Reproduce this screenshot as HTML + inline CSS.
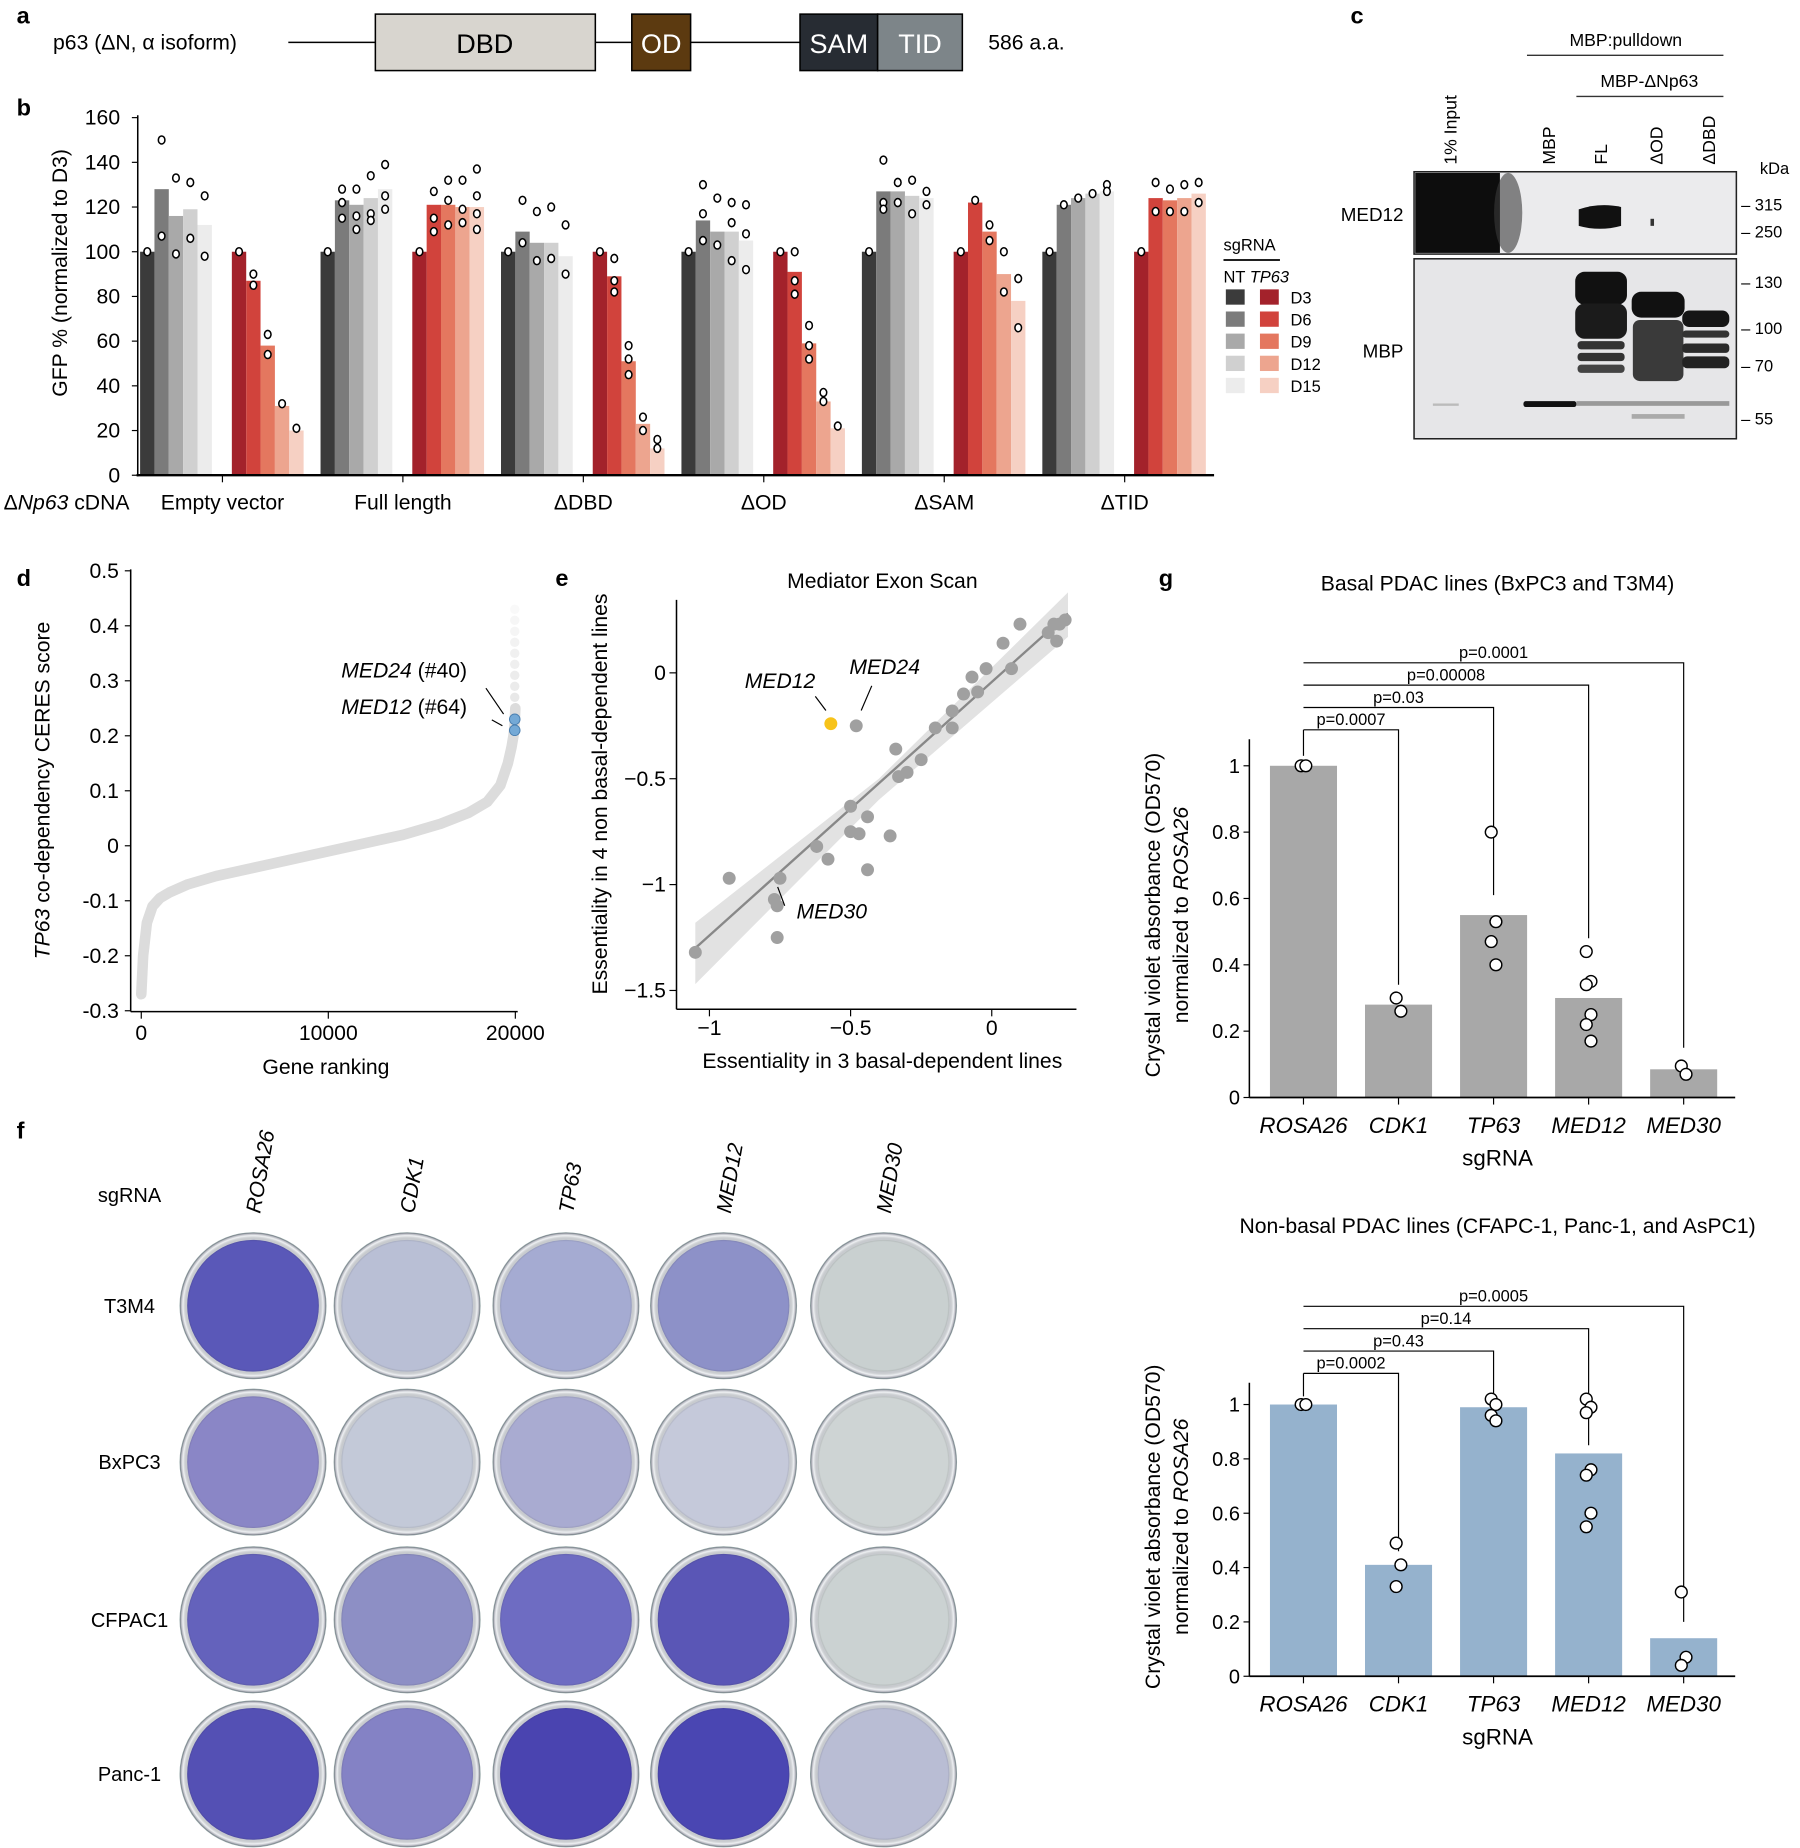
<!DOCTYPE html>
<html><head><meta charset="utf-8"><style>
html,body{margin:0;padding:0;background:#fff;width:1800px;height:1848px;overflow:hidden}
svg{display:block;font-family:"Liberation Sans",Arial,sans-serif}
</style></head><body>
<svg id="fig" width="1800" height="1848" viewBox="0 0 1530 1571" xmlns="http://www.w3.org/2000/svg">
<defs>
<radialGradient id="rim" cx="50%" cy="50%" r="50%"><stop offset="88%" stop-color="#000" stop-opacity="0"/><stop offset="96%" stop-color="#fff" stop-opacity="0.5"/><stop offset="100%" stop-color="#556" stop-opacity="0.6"/></radialGradient>
</defs>
<g>
<text x="14" y="20" font-size="20" font-weight="bold">a</text>
<text x="45" y="42" font-size="18">p63 (ΔN, α isoform)</text>
<line x1="245" y1="36" x2="319" y2="36" stroke="#000" stroke-width="1.3"/>
<rect x="319" y="12" width="187" height="48" fill="#d8d5cf" stroke="#000" stroke-width="1.3"/>
<text x="412" y="45" font-size="23" text-anchor="middle">DBD</text>
<line x1="506" y1="36" x2="537" y2="36" stroke="#000" stroke-width="1.3"/>
<rect x="537" y="12" width="50" height="48" fill="#5c3a10" stroke="#000" stroke-width="1.3"/>
<text x="562" y="45" font-size="23" text-anchor="middle" fill="#fff">OD</text>
<line x1="587" y1="36" x2="680" y2="36" stroke="#000" stroke-width="1.3"/>
<rect x="680" y="12" width="66" height="48" fill="#272c33" stroke="#000" stroke-width="1.3"/>
<text x="713" y="45" font-size="23" text-anchor="middle" fill="#fff">SAM</text>
<rect x="746" y="12" width="72" height="48" fill="#7d8589" stroke="#000" stroke-width="1.3"/>
<text x="782" y="45" font-size="23" text-anchor="middle" fill="#fff">TID</text>
<text x="840" y="42" font-size="18">586 a.a.</text>
</g>
<g id="pb">
<text x="14" y="98" font-size="20" font-weight="bold">b</text>
</g>
<g id="pc">
<text x="1148" y="20" font-size="20" font-weight="bold">c</text>
<text x="1382" y="39" font-size="15" text-anchor="middle">MBP:pulldown</text>
<line x1="1298" y1="47" x2="1465" y2="47" stroke="#333" stroke-width="1.2"/>
<text x="1402" y="74" font-size="15" text-anchor="middle">MBP-ΔNp63</text>
<line x1="1340" y1="82" x2="1465" y2="82" stroke="#333" stroke-width="1.2"/>
<text transform="translate(1238,140) rotate(-90)" font-size="15">1% Input</text>
<text transform="translate(1322,140) rotate(-90)" font-size="15">MBP</text>
<text transform="translate(1366,140) rotate(-90)" font-size="15">FL</text>
<text transform="translate(1413,140) rotate(-90)" font-size="15">ΔOD</text>
<text transform="translate(1458,140) rotate(-90)" font-size="15">ΔDBD</text>
<text x="1496" y="148" font-size="14">kDa</text>
<text x="1193" y="188" font-size="16" text-anchor="end">MED12</text>
<text x="1193" y="304" font-size="16" text-anchor="end">MBP</text>
<g>
<rect x="1202" y="146" width="274" height="70" fill="#ebebed" stroke="#222" stroke-width="1.3"/>
<rect x="1203" y="147" width="72" height="68" fill="#0d0d0d"/>
<ellipse cx="1282" cy="181" rx="12" ry="34" fill="#3a3a3a" opacity="0.6"/>
<path d="M1342 178 Q1360 172 1378 176 L1378 192 Q1360 197 1342 192 Z" fill="#111"/>
<rect x="1403" y="186" width="3" height="6" fill="#333"/>
</g>
<g>
<rect x="1202" y="220" width="274" height="153" fill="#e6e6e8" stroke="#222" stroke-width="1.3"/>
<rect x="1339" y="231" width="44" height="28" rx="8" fill="#111"/>
<rect x="1339" y="258" width="44" height="30" rx="8" fill="#1b1b1b"/>
<rect x="1341" y="290" width="40" height="7" rx="3" fill="#333"/>
<rect x="1341" y="300" width="40" height="7" rx="3" fill="#333"/>
<rect x="1341" y="310" width="40" height="7" rx="3" fill="#444"/>
<rect x="1387" y="248" width="45" height="22" rx="8" fill="#111"/>
<rect x="1388" y="272" width="43" height="52" rx="6" fill="#3a3a3a"/>
<rect x="1430" y="264" width="40" height="14" rx="6" fill="#151515"/>
<rect x="1430" y="281" width="40" height="6" rx="3" fill="#333"/>
<rect x="1430" y="292" width="40" height="8" rx="3" fill="#2a2a2a"/>
<rect x="1430" y="303" width="40" height="10" rx="4" fill="#222"/>
<rect x="1295" y="341" width="45" height="5" rx="2" fill="#111"/>
<rect x="1340" y="341" width="130" height="4" fill="#999"/>
<rect x="1387" y="352" width="45" height="4" fill="#aaa"/>
<rect x="1218" y="343" width="22" height="2" fill="#bbb"/>
</g>
<g font-size="14">
<text x="1480" y="179">– 315</text><text x="1480" y="202">– 250</text>
<text x="1480" y="245">– 130</text><text x="1480" y="284">– 100</text>
<text x="1480" y="316">– 70</text><text x="1480" y="361">– 55</text>
</g>
</g>
<g id="pd">
<text x="14" y="498" font-size="20" font-weight="bold">d</text>
</g>
<g id="pe">
<text x="472" y="498" font-size="20" font-weight="bold">e</text>
</g>
<g id="pf">
<text x="14" y="968" font-size="20" font-weight="bold">f</text>
<text x="110" y="1022" font-size="17" text-anchor="middle">sgRNA</text>
</g>
<g id="pg">
<text x="985" y="498" font-size="20" font-weight="bold">g</text>
</g>
</svg>
<script>
const NS='http://www.w3.org/2000/svg';
function mk(parent,tag,attrs,txt){const e=document.createElementNS(NS,tag);for(const k in attrs)e.setAttribute(k,attrs[k]);if(txt!==undefined)e.textContent=txt;parent.appendChild(e);return e;}

const bGroups=['Empty vector','Full length','ΔDBD','ΔOD','ΔSAM','ΔTID'];
const bDays=['D3','D6','D9','D12','D15'];
const bNT=[[100,128,116,119,112],[100,123,121,124,128],[100,109,104,104,98],[100,114,109,109,105],[100,127,127,125,124],[100,121,124,126,127]];
const bTP=[[100,87,58,31,20],[100,121,121,120,120],[100,89,51,23,12],[100,91,59,33,21],[100,122,109,90,78],[100,124,123,124,126]];
const bNTdots=[[[100],[150,107],[133,99],[131,106],[125,98]],
[[100],[128,122,115],[128,116,110],[134,117,114],[139,125,119]],
[[100],[123,104],[118,96],[120,97],[112,90]],
[[100],[130,117,105],[124,103],[122,113,96],[121,108,92]],
[[100],[141,122,119],[131,122],[132,117],[127,121]],
[[100],[121],[124],[126],[130,127]]];
const bTPdots=[[[100],[90,85],[63,54],[32],[21]],
[[100],[127,115,109],[132,123,112],[132,119,113],[137,125,117,110]],
[[100],[97,87,82],[58,52,45],[26,20],[16,12]],
[[100],[100,87,81],[67,58,52],[37,33],[22]],
[[100],[123],[112,105],[100,82],[88,66]],
[[100],[131,118],[128,118],[130,118],[131,122]]];
const bTicks=[0,20,40,60,80,100,120,140,160];
const ntColors=['#3b3b3b','#7b7b7b','#a9a9a9','#d0d0d0','#ececec'];
const tpColors=['#a3222b','#d1433c','#e4775f','#eda58f','#f6d0c3'];
(function(){
 const g=document.getElementById('pb');
 const y=v=>404-v*1.9, gx=i=>119+i*153.4, bw=12.2;
 bTicks.forEach(t=>{mk(g,'line',{x1:112,x2:117,y1:y(t),y2:y(t),stroke:'#000'});
  const tx=mk(g,'text',{x:102,y:y(t)+6,'font-size':18,'text-anchor':'end'},t);
  
  });
 bGroups.forEach((gn,i)=>{
  for(let d=0;d<5;d++){
   const x1=gx(i)+d*bw, x2=gx(i)+78+d*bw;
   const r1=mk(g,'rect',{x:x1,y:y(bNT[i][d]),width:bw,height:bNT[i][d]*1.9,fill:ntColors[d]});
   
   
   const r2=mk(g,'rect',{x:x2,y:y(bTP[i][d]),width:bw,height:bTP[i][d]*1.9,fill:tpColors[d]});
   
   
   bNTdots[i][d].forEach(v=>{const c=mk(g,'ellipse',{cx:x1+bw/2,cy:y(v),rx:2.8,ry:3.4,fill:'#fff',stroke:'#000','stroke-width':1.3});
    
    });
   bTPdots[i][d].forEach(v=>{const c=mk(g,'ellipse',{cx:x2+bw/2,cy:y(v),rx:2.8,ry:3.4,fill:'#fff',stroke:'#000','stroke-width':1.3});
    
    });
  }
  const cx=gx(i)+70;
  mk(g,'line',{x1:cx,x2:cx,y1:404,y2:410,stroke:'#000'});
  const lb=mk(g,'text',{x:cx,y:433,'font-size':18,'text-anchor':'middle'},gn);
  
  
 });
 mk(g,'line',{x1:117,x2:117,y1:98,y2:405,stroke:'#000','stroke-width':1.3});
 mk(g,'line',{x1:116,x2:1032,y1:404,y2:404,stroke:'#000','stroke-width':2});
 const cd=mk(g,'text',{x:3,y:433,'font-size':18});
 
 
 cd.innerHTML='Δ<tspan font-style="italic">Np63</tspan> cDNA';
 const yl=mk(g,'text',{transform:'translate(57,232) rotate(-90)','font-size':18,'text-anchor':'middle'},'GFP % (normalized to D3)');
 
 
 const lg=mk(g,'g',{});
 
 
 mk(lg,'text',{x:1040,y:213,'font-size':14},'sgRNA');
 mk(lg,'line',{x1:1040,x2:1088,y1:221,y2:221,stroke:'#000','stroke-width':1.5});
 mk(lg,'text',{x:1040,y:240,'font-size':14}).innerHTML='NT <tspan font-style="italic">TP63</tspan>';
 bDays.forEach((d,k)=>{const yy=246+k*18.8;
  const e=mk(lg,'g',{});
  
  
  mk(e,'rect',{x:1042,y:yy,width:16,height:13,fill:ntColors[k]});
  mk(e,'rect',{x:1071,y:yy,width:16,height:13,fill:tpColors[k]});
  mk(e,'text',{x:1097,y:yy+12,'font-size':14},d);});
})();

const dRank=[0,100,300,600,1000,1500,2500,4000,6000,8000,10000,12000,14000,16000,17500,18500,19200,19600,19800,19900,19960,20000];
const dScore=[-0.27,-0.2,-0.14,-0.11,-0.095,-0.085,-0.07,-0.055,-0.04,-0.025,-0.01,0.005,0.02,0.04,0.06,0.08,0.11,0.15,0.18,0.2,0.22,0.25];
const dTail=[0.27,0.29,0.31,0.33,0.35,0.37,0.39,0.41,0.43];
const dHighlight=[0.23,0.21];
const dTicks=[-0.3,-0.2,-0.1,0,0.1,0.2,0.3,0.4,0.5];
(function(){
 const g=document.getElementById('pd');
 const x=r=>120+r*0.0159, y=v=>719-v*467.5;
 dTicks.forEach(t=>{mk(g,'line',{x1:106,x2:111,y1:y(t),y2:y(t),stroke:'#000'});
  const tx=mk(g,'text',{x:101,y:y(t)+6,'font-size':18,'text-anchor':'end'},(t===0?'0':String(t)));
  
  });
 [0,10000,20000].forEach(t=>{mk(g,'line',{x1:x(t),x2:x(t),y1:860,y2:866,stroke:'#000'});
  const tx=mk(g,'text',{x:x(t),y:884,'font-size':18,'text-anchor':'middle'},t);
  
  });
 mk(g,'line',{x1:111,x2:111,y1:484,y2:860,stroke:'#000','stroke-width':1.3});
 mk(g,'line',{x1:111,x2:440,y1:860,y2:860,stroke:'#000','stroke-width':1.3});
 const p=mk(g,'polyline',{points:dRank.map((r,i)=>x(r)+','+y(dScore[i])).join(' '),fill:'none',stroke:'#dcdcdc','stroke-width':9,'stroke-linejoin':'round','stroke-linecap':'round'});
 
 
 dTail.forEach((v,i)=>{const c=mk(g,'circle',{cx:x(20000)-0.5,cy:y(v),r:4,fill:'#e6e6e6',opacity:0.9-i*0.08});
  
  });
 dHighlight.forEach(v=>{const c=mk(g,'circle',{cx:x(20000)-0.5,cy:y(v),r:4.5,fill:'#74a9d6',stroke:'#4a7fb0','stroke-width':0.8});
  
  });
 const a1=mk(g,'text',{x:290,y:576,'font-size':18});a1.innerHTML='<tspan font-style="italic">MED24</tspan> (#40)';
 
 
 const a2=mk(g,'text',{x:290,y:607,'font-size':18});a2.innerHTML='<tspan font-style="italic">MED12</tspan> (#64)';
 
 
 mk(g,'line',{x1:413,y1:585,x2:428,y2:607,stroke:'#000'});
 mk(g,'line',{x1:418,y1:612,x2:427,y2:617,stroke:'#000'});
 const xl=mk(g,'text',{x:277,y:913,'font-size':18,'text-anchor':'middle'},'Gene ranking');
 
 
 const yl=mk(g,'text',{transform:'translate(42,672) rotate(-90)','font-size':18,'text-anchor':'middle'});
 yl.innerHTML='<tspan font-style="italic">TP63</tspan> co-dependency CERES score';
 
 
})();

const eX=[-1.05,-0.93,-0.77,-0.76,-0.75,-0.76,-0.62,-0.58,-0.5,-0.5,-0.47,-0.44,-0.44,-0.36,-0.34,-0.33,-0.3,-0.25,-0.2,-0.14,-0.14,-0.1,-0.07,-0.05,-0.02,0.04,0.07,0.1,0.2,0.23,0.24,0.22,0.26];
const eY=[-1.32,-0.97,-1.07,-1.1,-0.97,-1.25,-0.82,-0.88,-0.63,-0.75,-0.76,-0.68,-0.93,-0.77,-0.36,-0.49,-0.47,-0.41,-0.26,-0.18,-0.26,-0.1,-0.02,-0.09,0.02,0.14,0.02,0.23,0.19,0.15,0.23,0.23,0.25];
const eMed12=[-0.57,-0.24];
const eMed24=[-0.48,-0.25];
const eFit=[[-1.05,-1.3],[0.27,0.28]];
const eXTicks=[-1,-0.5,0];
const eYTicks=[-1.5,-1,-0.5,0];
(function(){
 const g=document.getElementById('pe');
 const x=v=>843+v*240, y=v=>572-v*180;
 const t=mk(g,'text',{x:750,y:500,'font-size':18,'text-anchor':'middle'},'Mediator Exon Scan');
 
 
 const band=mk(g,'polygon',{points:[x(-1.05)+','+y(-1.18),x(-0.4)+','+y(-0.5),x(0.27)+','+y(0.38),x(0.27)+','+y(0.17),x(-0.4)+','+y(-0.6),x(-1.05)+','+y(-1.47)].join(' '),fill:'#e2e2e2'});
 
 
 const fl=mk(g,'line',{x1:x(eFit[0][0]),y1:y(eFit[0][1]),x2:x(eFit[1][0]),y2:y(eFit[1][1]),stroke:'#888','stroke-width':2});
 
 
 eX.forEach((v,i)=>{const c=mk(g,'circle',{cx:x(v),cy:y(eY[i]),r:5.5,fill:'#a0a0a0'});
  
  });
 const c24=mk(g,'circle',{cx:x(eMed24[0]),cy:y(eMed24[1]),r:5.5,fill:'#a0a0a0'});
 
 
 const c12=mk(g,'circle',{cx:x(eMed12[0]),cy:y(eMed12[1]),r:5.5,fill:'#f7c31a'});
 
 
 mk(g,'line',{x1:575,x2:575,y1:510,y2:858,stroke:'#000','stroke-width':1.3});
 mk(g,'line',{x1:575,x2:915,y1:858,y2:858,stroke:'#000','stroke-width':1.3});
 eXTicks.forEach(v=>{mk(g,'line',{x1:x(v),x2:x(v),y1:858,y2:864,stroke:'#000'});
  const tx=mk(g,'text',{x:x(v),y:880,'font-size':18,'text-anchor':'middle'},v===0?'0':String(v).replace('-','−'));
  
  });
 eYTicks.forEach(v=>{mk(g,'line',{x1:569,x2:575,y1:y(v),y2:y(v),stroke:'#000'});
  const tx=mk(g,'text',{x:566,y:y(v)+6,'font-size':18,'text-anchor':'end'},v===0?'0':String(v).replace('-','−'));
  
  });
 [['MED12',633,585],['MED24',722,573],['MED30',677,781]].forEach(a=>{const tx=mk(g,'text',{x:a[1],y:a[2],'font-size':18,'font-style':'italic'},a[0]);
  
  });
 mk(g,'line',{x1:693,y1:592,x2:702,y2:604,stroke:'#000'});
 mk(g,'line',{x1:741,y1:583,x2:732,y2:604,stroke:'#000'});
 mk(g,'line',{x1:667,y1:770,x2:661,y2:754,stroke:'#000'});
 const xl=mk(g,'text',{x:750,y:908,'font-size':18,'text-anchor':'middle'},'Essentiality in 3 basal-dependent lines');
 
 
 const yl=mk(g,'text',{transform:'translate(516,675) rotate(-90)','font-size':18,'text-anchor':'middle'},'Essentiality in 4 non basal-dependent lines');
 
 
})();

const fCols=['ROSA26','CDK1','TP63','MED12','MED30'];
const fRows=['T3M4','BxPC3','CFPAC1','Panc-1'];
const fColors=[['#5a58b8','#b9bfd5','#a5abd2','#8d91c8','#c9d0d0'],['#8a86c6','#c3c9d8','#a9abd1','#c5c9da','#ced4d4'],['#6462bc','#8d8fc5','#6e6cc2','#5a56b6','#cbd2d2'],['#5450b4','#8482c5','#4a44b0','#4a46b2','#b9bdd4']];
(function(){
 const g=document.getElementById('pf');
 const cx=[215,346,481,615,751], cy=[1110,1243,1377,1508];
 fCols.forEach((c,i)=>{const t=mk(g,'text',{transform:'translate('+(cx[i]+6)+',1032) rotate(-80)','font-size':18,'font-style':'italic'},c);
  
  });
 fRows.forEach((r,j)=>{const t=mk(g,'text',{x:110,y:cy[j]+6,'font-size':17,'text-anchor':'middle'},r);
  
  
  fCols.forEach((c,i)=>{
   const w=mk(g,'g',{});
   
   
   mk(w,'circle',{cx:cx[i],cy:cy[j],r:62,fill:'#dfe3e8',stroke:'#9aa',"stroke-width":1});
   mk(w,'circle',{cx:cx[i],cy:cy[j],r:56,fill:fColors[j][i]});
   mk(w,'circle',{cx:cx[i],cy:cy[j],r:62,fill:'url(#rim)'});
  });});
})();

const gCats=['ROSA26','CDK1','TP63','MED12','MED30'];
const gTopVals=[1,0.28,0.55,0.3,0.085];
const gTopDots=[[1,1],[0.3,0.26],[0.8,0.53,0.47,0.4],[0.44,0.35,0.34,0.25,0.22,0.17],[0.095,0.07]];
const gTopP=['p=0.0007','p=0.03','p=0.00008','p=0.0001'];
const gBotVals=[1,0.41,0.99,0.82,0.14];
const gBotDots=[[1,1],[0.49,0.41,0.33],[1.02,1.0,0.96,0.94],[1.02,0.99,0.97,0.76,0.74,0.6,0.55],[0.31,0.07,0.04]];
const gBotP=['p=0.0002','p=0.43','p=0.14','p=0.0005'];
const gTicks=[0,0.2,0.4,0.6,0.8,1];
function barChart(g,name,title,vals,dots,pv,y0,sc,color,top,stemEnds){
 const x=i=>1108+i*80.8, y=v=>y0-v*sc;
 const t=mk(g,'text',{x:1273,y:top,'font-size':18,'text-anchor':'middle'},title);
 
 
 vals.forEach((v,i)=>{const r=mk(g,'rect',{x:x(i)-28.5,y:y(v),width:57,height:v*sc,fill:color});
  
  });
 const yy0=y0-1.08*sc;
 pv.forEach((p,k)=>{const ly=yy0-8-k*19;
  mk(g,'polyline',{points:x(0)+','+ly+' '+x(k+1)+','+ly+' '+x(k+1)+','+y(stemEnds[k]),fill:'none',stroke:'#000','stroke-width':1});
  const tx=mk(g,'text',{x:(x(0)+x(k+1))/2,y:ly-4,'font-size':14,'text-anchor':'middle'},p);
  
  });
 mk(g,'line',{x1:x(0),x2:x(0),y1:yy0-8,y2:y(1.03),stroke:'#000'});
 dots.forEach((arr,i)=>arr.forEach((v,k)=>{const c=mk(g,'circle',{cx:x(i)+(k%2?2:-2),cy:y(v),r:5,fill:'#fff',stroke:'#000','stroke-width':1.2});
  
  }));
 mk(g,'line',{x1:1062,x2:1062,y1:yy0,y2:y0,stroke:'#000','stroke-width':1.3});
 mk(g,'line',{x1:1062,x2:1475,y1:y0,y2:y0,stroke:'#000','stroke-width':1.5});
 gTicks.forEach(v=>{mk(g,'line',{x1:1057,x2:1062,y1:y(v),y2:y(v),stroke:'#000'});
  const tx=mk(g,'text',{x:1054,y:y(v)+6,'font-size':17,'text-anchor':'end'},String(v));
  
  });
 gCats.forEach((c,i)=>{mk(g,'line',{x1:x(i),x2:x(i),y1:y0,y2:y0+6,stroke:'#000'});
  const tx=mk(g,'text',{x:x(i),y:y0+30,'font-size':19,'font-style':'italic','text-anchor':'middle'},c);
  
  });
 const xl=mk(g,'text',{x:1273,y:y0+58,'font-size':19,'text-anchor':'middle'},'sgRNA');
 
 
 const yc=y0-0.55*sc;
 const yl=mk(g,'text',{transform:'translate(986,'+yc+') rotate(-90)','font-size':18,'text-anchor':'middle'},'Crystal violet absorbance (OD570)');
 
 
 const yl2=mk(g,'text',{transform:'translate(1010,'+yc+') rotate(-90)','font-size':18,'text-anchor':'middle'});
 yl2.innerHTML='normalized to <tspan font-style="italic">ROSA26</tspan>';
 
 
}
barChart(document.getElementById('pg'),'basal','Basal PDAC lines (BxPC3 and T3M4)',gTopVals,gTopDots,gTopP,933,282,'#a8a8a8',502,[0.34,0.61,0.48,0.15]);
barChart(document.getElementById('pg'),'nonbasal','Non-basal PDAC lines (CFAPC-1, Panc-1, and AsPC1)',gBotVals,gBotDots,gBotP,1425,231,'#95b2cd',1048,[0.46,1.02,0.85,0.2]);
</script>
</body></html>
